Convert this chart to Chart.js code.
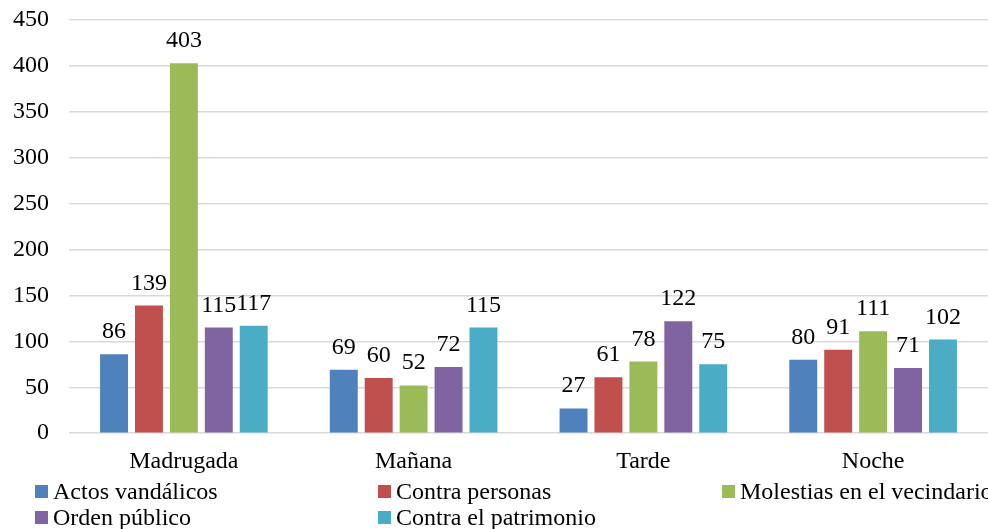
<!DOCTYPE html>
<html lang="es">
  <head>
    <meta charset="UTF-8">
    <title>Incidencias por franja horaria</title>
    <style>
      html, body { margin: 0; padding: 0; background: #fff; overflow: hidden; }
      .wrap { position: relative; width: 988px; height: 529px; overflow: hidden; }
      #chart { position: absolute; left: 0; top: 0; }
      .legend { position: absolute; left: 0; top: 0; width: 988px; height: 529px; pointer-events: none;
        font-family: "Liberation Serif", "Times New Roman", serif; font-size: 24px; color: #000; }
      .item { position: absolute; white-space: nowrap; line-height: 26px; }
      .item span.box { display: inline-block; width: 13px; height: 13px; margin-right: 5px; vertical-align: 1px; }
    </style>
  </head>
  <body>
    <div class="wrap">
      <canvas id="chart" width="988" height="490" style="width: 988px; height: 490px"></canvas>
      <div class="legend" id="legend"></div>
    </div>
  <script src="https://cdn.jsdelivr.net/npm/chart.js"></script>
  <script>
    // franjas horarias
    const categories = ['Madrugada', 'Mañana', 'Tarde', 'Noche'];
    const seriesNames = ['Actos vandálicos', 'Contra personas', 'Molestias en el vecindario', 'Orden público', 'Contra el patrimonio'];
    const actosVandalicos = [86, 69, 27, 80];
    const contraPersonas = [139, 60, 61, 91];
    const molestias = [403, 52, 78, 111];
    const ordenPublico = [115, 72, 122, 71];
    const contraPatrimonio = [117, 115, 75, 102];
    const yTicks = [0, 50, 100, 150, 200, 250, 300, 350, 400, 450];
    const colors = ['#4f81bd', '#c0504d', '#9bbb59', '#8064a2', '#4bacc6'];

    const allSeries = [actosVandalicos, contraPersonas, molestias, ordenPublico, contraPatrimonio];
    const font = "'Liberation Serif', 'Times New Roman', serif";

    /* Labels with the value above each bar */
    const valueLabels = {
      id: 'valueLabels',
      afterDatasetsDraw(chart) {
        const ctx = chart.ctx;
        ctx.save();
        ctx.font = '24px ' + font;
        ctx.fillStyle = '#000';
        ctx.textAlign = 'center';
        ctx.textBaseline = 'alphabetic';
        chart.data.datasets.forEach((ds, i) => {
          chart.getDatasetMeta(i).data.forEach((bar, j) => {
            ctx.fillText(String(ds.data[j]), bar.x, bar.y - 16);
          });
        });
        ctx.restore();
      }
    };

    const chart = new Chart(document.getElementById('chart'), {
      type: 'bar',
      data: {
        labels: categories,
        datasets: seriesNames.map((name, i) => ({
          label: name,
          data: allSeries[i],
          backgroundColor: colors[i],
          borderWidth: 0,
          categoryPercentage: 0.76,
          barPercentage: 0.8
        }))
      },
      options: {
        responsive: false,
        animation: false,
        layout: { padding: { top: 20, right: 0, left: 0, bottom: 0 } },
        plugins: {
          legend: { display: false },
          tooltip: { enabled: false }
        },
        scales: {
          x: {
            grid: { display: false, drawTicks: false },
            border: { display: false },
            ticks: { color: '#000', font: { family: font, size: 24 }, padding: 14 }
          },
          y: {
            min: 0,
            max: 450,
            afterBuildTicks(scale) { scale.ticks = yTicks.map(v => ({ value: v })); },
            afterFit(scale) {
              scale.width = 69;
              scale.paddingTop = 0;
              scale.paddingBottom = 0;
            },
            grid: { color: '#d9d9d9', lineWidth: 1.5, drawTicks: false },
            border: { display: false },
            ticks: { color: '#000', font: { family: font, size: 24 }, padding: 20 }
          }
        }
      },
      plugins: [valueLabels]
    });

    /* Legend in three columns, like the original */
    const legendPos = [[35, 478], [378, 478], [722, 478], [35, 504], [378, 504]];
    const legend = document.getElementById('legend');
    seriesNames.forEach((name, i) => {
      const item = document.createElement('div');
      item.className = 'item';
      item.style.left = legendPos[i][0] + 'px';
      item.style.top = legendPos[i][1] + 'px';
      item.innerHTML = `<span class="box" style="background:${colors[i]}"></span>${name}`;
      legend.appendChild(item);
    });
  </script>
  </body>
</html>
